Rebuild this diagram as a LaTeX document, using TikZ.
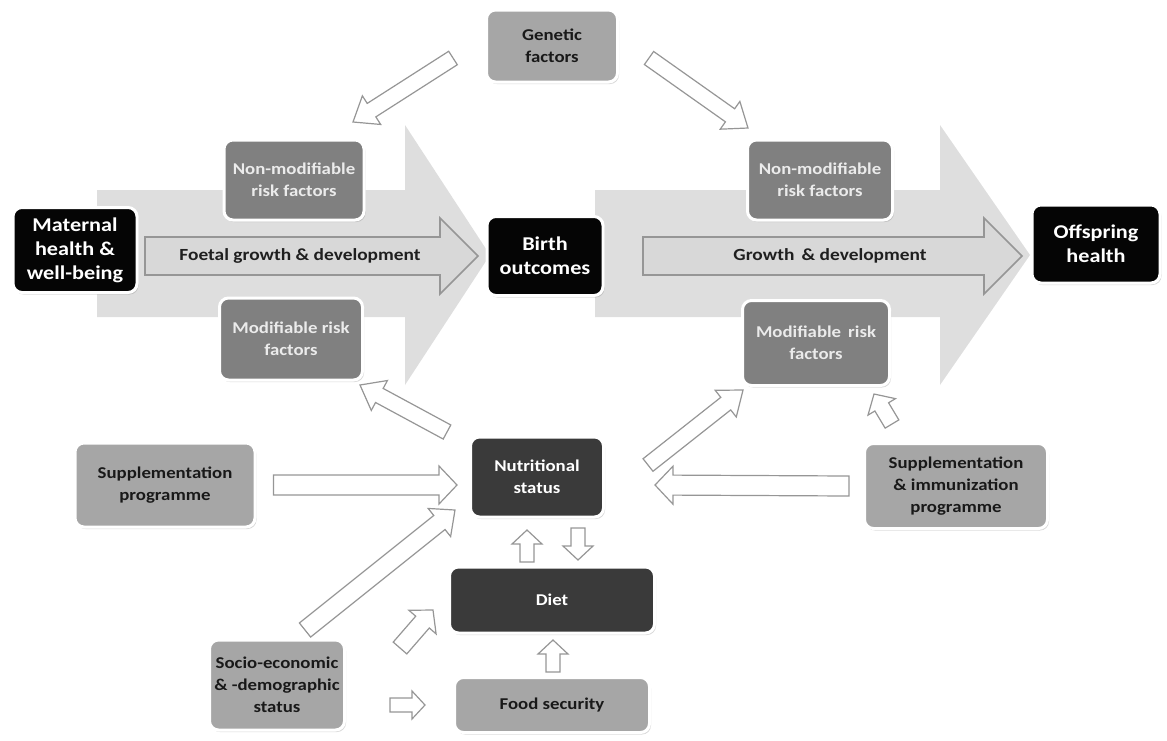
\documentclass[tikz,border=0pt]{standalone}
\usepackage{fontspec}
\setmainfont{Carlito}
\newfontfamily\widefont{Carlito}[FakeStretch=1.14]
\usetikzlibrary{calc,shadows}

\definecolor{boxblack}{RGB}{5,5,5}
\definecolor{boxdark}{RGB}{58,58,58}
\definecolor{boxmid}{RGB}{128,128,128}
\definecolor{boxlight}{RGB}{166,166,166}
\definecolor{bandgray}{RGB}{222,222,222}
\definecolor{flowgray}{RGB}{216,216,216}
\definecolor{edgegray}{RGB}{150,150,150}

% block arrow: [style]{from}{to}{half body}{half head}{head length}
\newcommand{\blockarrow}[6][hollowarrow]{%
  \coordinate (ba-h) at ($(#3)!#6!(#2)$);
  \draw[#1] ($(#2)!#4!90:(#3)$) -- ($(ba-h)!#4!90:(#3)$) -- ($(ba-h)!#5!90:(#3)$)
    -- (#3) -- ($(ba-h)!#5!-90:(#3)$) -- ($(ba-h)!#4!-90:(#3)$) -- ($(#2)!#4!-90:(#3)$) -- cycle;}

\tikzset{
  box/.style={rounded corners=9pt, draw=white, line width=3pt, align=center, inner sep=2pt,
    font=\widefont\bfseries\fontsize{16.5}{22}\selectfont,
    drop shadow={shadow xshift=1.5pt, shadow yshift=-2pt, opacity=0.3}},
  blackbox/.style={box, fill=boxblack, text=white, font=\widefont\bfseries\fontsize{19.5}{24}\selectfont},
  darkbox/.style={box, fill=boxdark, text=white},
  midbox/.style={box, fill=boxmid, text=white!92!black},
  lightbox/.style={box, fill=boxlight, text=black!90},
  flowarrow/.style={fill=flowgray, draw=edgegray, line width=1.6pt, line join=miter},
  hollowarrow/.style={fill=white, draw=edgegray, line width=1.2pt, line join=miter},
  flowtext/.style={font=\widefont\bfseries\fontsize{17}{20}\selectfont, text=black!88},
}

\begin{document}
\begin{tikzpicture}[x=1pt, y=-1pt]
\useasboundingbox (0,0) rectangle (1167,740);

% big bands
\fill[bandgray] (97,190) -- (405,190) -- (405,125) -- (490,255) -- (405,385) -- (405,317) -- (97,317) -- cycle;
\fill[bandgray] (595,190) -- (940,190) -- (940,125) -- (1030,255) -- (940,385) -- (940,317) -- (595,317) -- cycle;

% flows inside the bands
\coordinate (f1a) at (145,256);
\coordinate (f1b) at (478,256);
\coordinate (f2a) at (643,256);
\coordinate (f2b) at (1022,256);
\blockarrow[flowarrow]{f1a}{f1b}{19pt}{38pt}{38pt}
\blockarrow[flowarrow]{f2a}{f2b}{19pt}{38pt}{38pt}
\node[flowtext] (foetal) at (300,256) {Foetal growth \& development};
\node[flowtext] (growth) at (830,256) {Growth\, \& development};

% boxes
\node[lightbox, minimum width=131, minimum height=72] (gen) at (552,46) {Genetic\\factors};
\node[blackbox, minimum width=124, minimum height=85] (mat) at (75,250) {Maternal\\health \&\\well-being};
\node[midbox, minimum width=140, minimum height=80] (nmL) at (294,180) {Non-modifiable\\risk factors};
\node[midbox, minimum width=143, minimum height=82] (modL) at (291,339) {Modifiable risk\\factors};
\node[blackbox, minimum width=116, minimum height=79] (birth) at (545,256) {Birth\\outcomes};
\node[midbox, minimum width=145, minimum height=80] (nmR) at (820,180) {Non-modifiable\\risk factors};
\node[midbox, minimum width=147, minimum height=85] (modR) at (816,343) {Modifiable\, risk\\factors};
\node[blackbox, minimum width=128, minimum height=78] (off) at (1096,244) {Offspring\\health};
\node[lightbox, minimum width=180, minimum height=84] (suppL) at (165,485) {Supplementation\\programme};
\node[darkbox, minimum width=133, minimum height=80] (nutr) at (537,477) {Nutritional\\status};
\node[lightbox, minimum width=183, minimum height=85] (suppR) at (956,486) {Supplementation\\\& immunization\\programme};
\node[darkbox, minimum width=205, minimum height=66] (diet) at (552,600) {Diet};
\node[lightbox, minimum width=135, minimum height=90] (socio) at (277,685) {Socio-economic\\\& -demographic\\status};
\node[lightbox, minimum width=195, minimum height=55] (food) at (552,705) {Food security};

% arrow ends
\coordinate (g1) at ($(gen.west)+(-32,12)$);
\coordinate (g1t) at (353,122);
\coordinate (g2) at ($(gen.east)+(30,12)$);
\coordinate (g2t) at (748,128);
\coordinate (n1) at (447,432);
\coordinate (n1t) at (360,385);
\coordinate (n2) at (648,465);
\coordinate (n2t) at (743,390);
\coordinate (s1) at ($(suppL.east)+(17,0)$);
\coordinate (s1t) at (457,485);
\coordinate (s2) at ($(suppR.west)+(-14,0)$);
\coordinate (s2t) at (655,485);
\coordinate (s3) at (892,424);
\coordinate (s3t) at (874,394);
\coordinate (e1) at (305,630);
\coordinate (e1t) at (455,510);
\coordinate (e2) at (400,648);
\coordinate (e2t) at (433,610);
\coordinate (e3) at (390,705);
\coordinate (e3t) at (425,705);
\coordinate (d1) at (527,562);
\coordinate (d1t) at (527,530);
\coordinate (d2) at (578,528);
\coordinate (d2t) at (578,560);
\coordinate (d3) at (553,672);
\coordinate (d3t) at (553,640);

% connectors
\blockarrow{g1}{g1t}{8pt}{17pt}{22pt}
\blockarrow{g2}{g2t}{8pt}{17pt}{22pt}
\blockarrow{n1}{n1t}{8pt}{17pt}{22pt}
\blockarrow{n2}{n2t}{8pt}{17pt}{22pt}
\blockarrow{s1}{s1t}{10pt}{19pt}{18pt}
\blockarrow{s2}{s2t}{10pt}{19pt}{18pt}
\blockarrow{s3}{s3t}{8pt}{16pt}{15pt}
\blockarrow{e1}{e1t}{9pt}{18pt}{20pt}
\blockarrow{e2}{e2t}{9pt}{18pt}{16pt}
\blockarrow{e3}{e3t}{7pt}{14pt}{13pt}
\blockarrow{d1}{d1t}{7pt}{15pt}{14pt}
\blockarrow{d2}{d2t}{7pt}{15pt}{14pt}
\blockarrow{d3}{d3t}{7pt}{15pt}{14pt}
\end{tikzpicture}
\end{document}
